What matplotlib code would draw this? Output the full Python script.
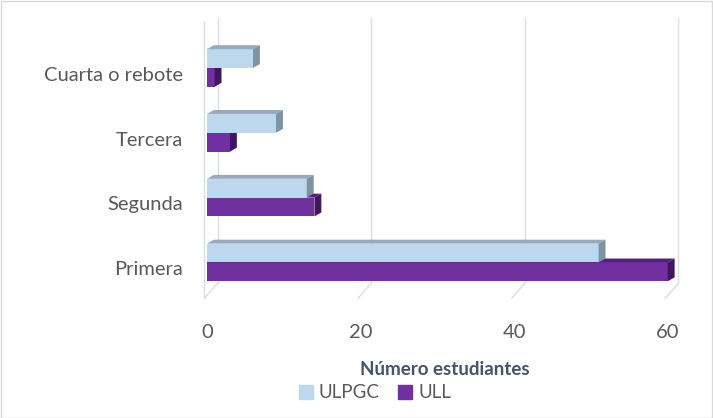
import matplotlib.pyplot as plt
from matplotlib.patches import Polygon, Rectangle
import numpy as np

plt.rcParams['font.family'] = ['Lato', 'DejaVu Sans']

categorias = ['Primera', 'Segunda', 'Tercera', 'Cuarta o rebote']
ulpgc = [51, 13, 9, 6]
ull = [60, 14, 3, 1]
ticks = [0, 20, 40, 60]

# colores: cara frontal, cara superior, lateral
col_ulpgc = ('#BDD7EE', '#97A9BA', '#7E93A6')
col_ull = ('#7030A0', '#52207A', '#3F165F')

fig = plt.figure(figsize=(7.13, 4.18), dpi=100)
ax = fig.add_axes([200 / 713, 1 - 300 / 418, 490 / 713, 282 / 418])
ax.set_xlim(-0.9, 62.9)
ax.set_ylim(-0.49, 3.86)

# profundidad 3D en unidades de datos
dx, dy = 0.9, 0.06
h = 0.29
off = 0.09

def bar3d(y0, w, cols):
    front, top, side = cols
    ax.add_patch(Rectangle((0, y0), w, h, facecolor=front, edgecolor='none', zorder=3))
    ax.add_patch(Polygon([(0, y0 + h), (w, y0 + h), (w + dx, y0 + h + dy), (dx, y0 + h + dy)],
                         closed=True, facecolor=top, edgecolor='none', zorder=3))
    ax.add_patch(Polygon([(w, y0), (w, y0 + h), (w + dx, y0 + h + dy), (w + dx, y0 + dy)],
                         closed=True, facecolor=side, edgecolor='none', zorder=3))

y = np.arange(len(categorias))
for i in range(len(categorias)):
    bar3d(y[i] - h + off, ull[i], col_ull)
    bar3d(y[i] + off, ulpgc[i], col_ulpgc)

# rejilla con suelo en perspectiva
gdx = 1.4
for v in ticks:
    ax.plot([v + gdx, v + gdx], [3.86, -0.23], color='#D9DEE6', lw=1, zorder=1)
    ax.plot([v + gdx, v - 0.3], [-0.23, -0.46], color='#D9DEE6', lw=1, zorder=1)
ax.plot([-0.4, -0.4], [3.8, -0.46], color='#D9DEE6', lw=1, zorder=1)

ax.set_yticks(y)
ax.set_yticklabels(categorias, fontsize=14.5, color='#595959')
ax.set_xticks(ticks)
ax.set_xticklabels([str(t) for t in ticks], fontsize=14.5, color='#595959')
ax.tick_params(length=0)
ax.tick_params(axis='x', pad=17)
ax.tick_params(axis='y', pad=12)
for s in ax.spines.values():
    s.set_visible(False)

ax.set_xlabel('Número estudiantes', fontsize=13.5, fontweight='bold', color='#44546A', labelpad=15)

hs = [Rectangle((0, 0), 1, 1, color=col_ulpgc[0]), Rectangle((0, 0), 1, 1, color=col_ull[0])]
fig.legend(hs, ['ULPGC', 'ULL'], loc='center', bbox_to_anchor=(375 / 713, 1 - 393 / 418),
           ncol=2, frameon=False, fontsize=13.5, handlelength=0.75, handleheight=0.75,
           handletextpad=0.3, columnspacing=1.0, labelcolor='#595959')

fig.patches.append(Rectangle((0.5 / 713, 0.5 / 418), 1 - 1.5 / 713, 1 - 1.5 / 418,
                             transform=fig.transFigure, fill=False, edgecolor='#D9D9D9', lw=1))

fig.savefig('out.png', dpi=100)
